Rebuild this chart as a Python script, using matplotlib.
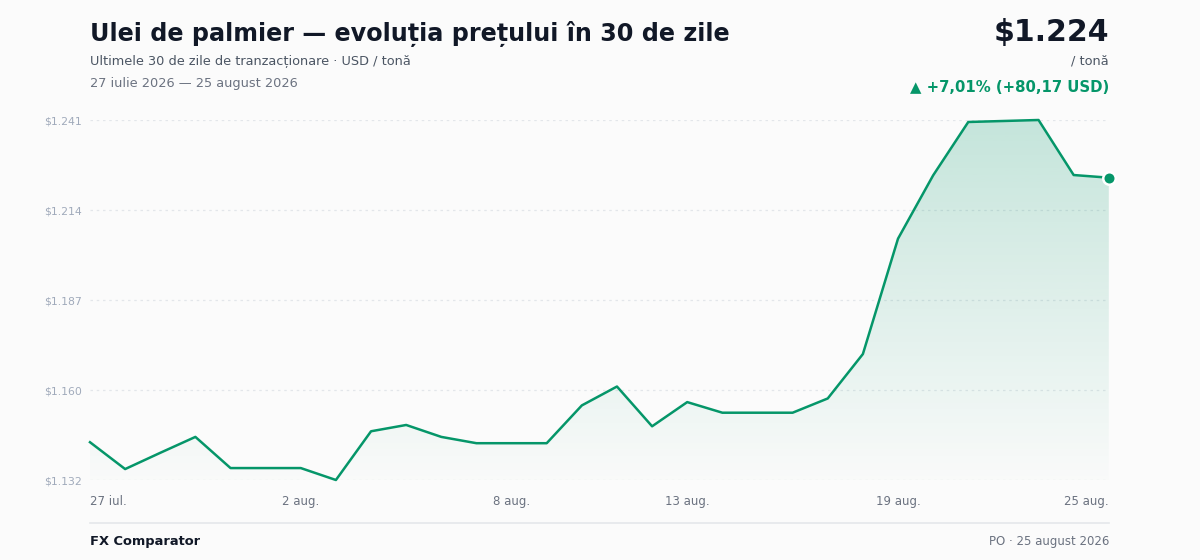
import matplotlib
matplotlib.use("Agg")
import matplotlib.pyplot as plt
import numpy as np
from matplotlib.colors import to_rgb
from matplotlib.patches import PathPatch

plt.rcParams["font.family"] = ["DejaVu Sans"]

# --- date ---
zile = ["27 iul.", "28 iul.", "29 iul.", "30 iul.", "31 iul.", "1 aug.", "2 aug.",
        "3 aug.", "4 aug.", "5 aug.", "6 aug.", "7 aug.", "8 aug.", "9 aug.",
        "10 aug.", "11 aug.", "12 aug.", "13 aug.", "14 aug.", "15 aug.", "16 aug.",
        "17 aug.", "18 aug.", "19 aug.", "20 aug.", "21 aug.", "22 aug.", "23 aug.",
        "24 aug.", "25 aug."]
pret = [1143.8, 1135.7, 1140.6, 1145.4, 1136.0, 1136.0, 1136.0,
        1132.4, 1147.1, 1149.0, 1145.4, 1143.5, 1143.5, 1143.5,
        1154.9, 1160.6, 1148.6, 1155.9, 1152.7, 1152.7, 1152.7,
        1157.0, 1170.4, 1205.2, 1224.3, 1240.4, 1240.7, 1241.0,
        1224.4, 1223.6]
etichete_x = ["27 iul.", "2 aug.", "8 aug.", "13 aug.", "19 aug.", "25 aug."]

titlu = "Ulei de palmier — evoluția prețului în 30 de zile"
subtitlu = "Ultimele 30 de zile de tranzacționare · USD / tonă"
interval = "27 iulie 2026 — 25 august 2026"
pret_curent = "$1.224"
variatie = "▲ +7,01% (+80,17 USD)"

VERDE = "#059669"
FUNDAL = "#fbfbfb"

def fmt_ro(v):
    return "$" + f"{v:,.0f}".replace(",", ".")

fig = plt.figure(figsize=(12, 5.6), dpi=100, facecolor=FUNDAL)
ax = fig.add_axes([0.075, 1 - 480 / 560, 0.924 - 0.075, (480 - 120) / 560])
ax.set_facecolor(FUNDAL)

x = np.arange(len(pret))
ymin, ymax = min(pret), max(pret)

# umplere cu gradient sub linie
rgb = to_rgb(VERDE)
grad = np.zeros((256, 1, 4))
grad[:, 0, :3] = rgb
grad[:, 0, 3] = np.linspace(0.22, 0.01, 256)
img = ax.imshow(grad, extent=[0, len(pret) - 1, ymin, ymax], aspect="auto",
                origin="upper", zorder=1)
poly = ax.fill_between(x, pret, ymin, color="none", lw=0)
patch = PathPatch(poly.get_paths()[0], transform=ax.transData,
                  facecolor="none", edgecolor="none")
ax.add_patch(patch)
img.set_clip_path(patch)

ax.plot(x, pret, color=VERDE, lw=1.8, zorder=3, clip_on=False, solid_joinstyle="round")
ax.plot(x[-1], pret[-1], "o", ms=9, mfc=VERDE, mec="white", mew=1.8, zorder=4, clip_on=False)

ax.set_xlim(0, len(pret) - 1)
ax.set_ylim(ymin, ymax)

# grila
yticks = np.linspace(ymin, ymax, 5)
for yt in yticks:
    ax.axhline(yt, color="#e3e6ea", lw=0.9, ls=(0, (2, 3)), zorder=0)
ax.set_yticks(yticks)
ax.set_yticklabels([fmt_ro(v) for v in yticks], fontsize=7.8, color="#a0aabb")
ax.tick_params(axis="y", length=0, pad=6)

pozitii = [zile.index(e) for e in etichete_x]
ax.set_xticks(pozitii)
ax.set_xticklabels(etichete_x, fontsize=8.5, color="#6b7280")
ax.tick_params(axis="x", length=0, pad=11)
labs = ax.get_xticklabels()
labs[0].set_ha("left")
labs[-1].set_ha("right")

for s in ax.spines.values():
    s.set_visible(False)

# texte antet
fig.text(90 / 1200, 1 - 34 / 560, titlu, fontsize=17.2, fontweight="bold",
         color="#111827", va="center", ha="left")
fig.text(90 / 1200, 1 - 61 / 560, subtitlu, fontsize=9.25, color="#4b5563",
         va="center", ha="left")
fig.text(90 / 1200, 1 - 83 / 560, interval, fontsize=9.3, color="#6b7280",
         va="center", ha="left")
fig.text(1109 / 1200, 1 - 32 / 560, pret_curent, fontsize=21.6, fontweight="bold",
         color="#111827", va="center", ha="right")
fig.text(1109 / 1200, 1 - 61 / 560, "/ tonă", fontsize=9.3, color="#4b5563",
         va="center", ha="right")
fig.text(1109 / 1200, 1 - 87 / 560, variatie, fontsize=10.7, fontweight="bold",
         color=VERDE, va="center", ha="right")

# subsol
fig.add_artist(plt.Line2D([90 / 1200, 1109 / 1200], [1 - 523 / 560] * 2,
                          color="#e5e7eb", lw=1.2))
fig.text(90 / 1200, 1 - 541 / 560, "FX Comparator", fontsize=9.35, fontweight="bold",
         color="#111827", va="center", ha="left")
fig.text(1109 / 1200, 1 - 541 / 560, "PO · 25 august 2026", fontsize=8.5,
         color="#6b7280", va="center", ha="right")

fig.savefig("out.png", dpi=100, facecolor=FUNDAL)
